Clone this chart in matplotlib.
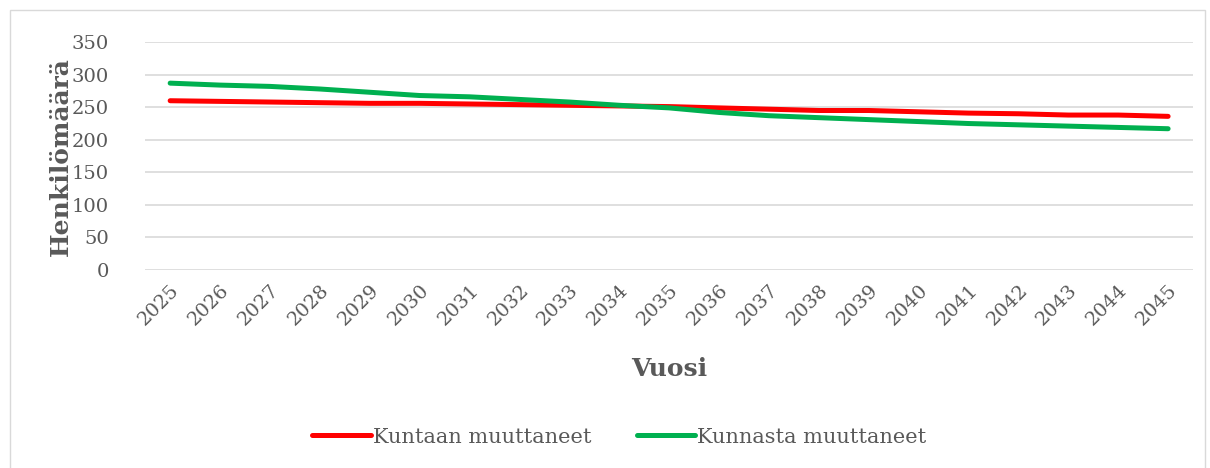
import matplotlib
matplotlib.use("Agg")
import matplotlib.pyplot as plt
from matplotlib.patches import Rectangle

# data
vuodet = [str(v) for v in range(2025, 2046)]
kuntaan = [260, 259, 258, 257, 256, 256, 255, 254, 253, 252, 251,
           249, 247, 245, 245, 243, 241, 240, 238, 238, 236]
kunnasta = [287, 284, 282, 278, 273, 268, 266, 262, 258, 253, 249,
            242, 237, 234, 231, 228, 225, 223, 221, 219, 217]

tekstivari = "#595959"
plt.rcParams["font.family"] = ["DejaVu Serif"]

fig = plt.figure(figsize=(12.1, 4.68), dpi=100)
ax = fig.add_axes([0.12, 0.423, 0.866, 0.487])

x = range(len(vuodet))
ax.plot(x, kuntaan, color="#FF0000", lw=3.6, solid_capstyle="round", label="Kuntaan muuttaneet")
ax.plot(x, kunnasta, color="#00B050", lw=3.6, solid_capstyle="round", label="Kunnasta muuttaneet")

ax.set_xlim(-0.5, len(vuodet) - 0.5)
ax.set_ylim(0, 350)
ax.set_yticks(range(0, 351, 50))
ax.set_xticks(list(x))
ax.set_xticklabels(vuodet, rotation=45, ha="right", rotation_mode="anchor")
ax.tick_params(axis="both", length=0, labelsize=14, colors=tekstivari)
ax.tick_params(axis="x", pad=8)
ax.tick_params(axis="y", pad=26)

ax.grid(axis="y", color="#D9D9D9", lw=1.2)
ax.set_axisbelow(True)
for s in ax.spines.values():
    s.set_visible(False)

ax.set_ylabel("Henkilömäärä", fontsize=18, fontweight="bold", color=tekstivari, labelpad=-1)
ax.set_xlabel("Vuosi", fontsize=18, fontweight="bold", color=tekstivari, labelpad=20)

leg = fig.legend(loc="center", bbox_to_anchor=(0.512, 0.066), ncol=2, frameon=False,
                 fontsize=15, handlelength=2.8, handletextpad=0.1, columnspacing=2.2)
for t in leg.get_texts():
    t.set_color(tekstivari)

# outer chart border
fig.patches.append(Rectangle((10 / 1210, -0.05), 1195 / 1210, 1 - 10 / 468 + 0.05,
                             transform=fig.transFigure, fill=False, ec="#D9D9D9", lw=1))

fig.savefig("out.png", dpi=100)
